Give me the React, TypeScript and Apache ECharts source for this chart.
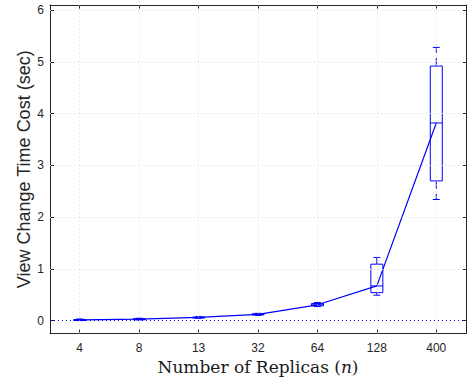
import React, { useEffect, useRef } from "react";
import * as echarts from "echarts";

const categories = ["4", "8", "13", "32", "64", "128", "400"];
const lows = [0.0, 0.015, 0.045, 0.1, 0.27, 0.49, 2.34];
const q1s = [0.005, 0.022, 0.052, 0.11, 0.285, 0.54, 2.7];
const medians = [0.012, 0.028, 0.06, 0.12, 0.305, 0.67, 3.82];
const q3s = [0.02, 0.035, 0.068, 0.13, 0.33, 1.09, 4.92];
const highs = [0.03, 0.045, 0.075, 0.14, 0.35, 1.22, 5.28];
const yTicks = [0, 1, 2, 3, 4, 5, 6];
const yMin = -0.25;
const yMax = 6.1;

const BLUE = "#0000ff";
const AXIS = "#262626";
const GRID = "#d9d9d9";
const SANS = "'Liberation Sans', Arial, Helvetica, sans-serif";
const SERIF = "'DejaVu Serif', 'Liberation Serif', serif";

export default function App() {
  const ref = useRef<HTMLDivElement>(null);
  useEffect(() => {
    if (!ref.current) return;
    const chart = echarts.init(ref.current, undefined, { renderer: "svg" });
    const boxData = categories.map((_, i) => [i, lows[i], q1s[i], medians[i], q3s[i], highs[i]]);
    const gridLines: any[] = [
      ...categories.map((c) => ({ xAxis: c })),
      ...yTicks.filter((v) => v !== 0).map((v) => ({ yAxis: v })),
    ];
    chart.setOption({
      animation: false,
      grid: { left: 50, right: 2, top: 5, bottom: 47.5, containLabel: false },
      xAxis: [
        {
          type: "category",
          data: categories,
          position: "bottom",
          boundaryGap: true,
          axisLine: { show: true, onZero: false, lineStyle: { color: AXIS, width: 1 } },
          axisTick: { show: true, inside: true, alignWithLabel: true, length: 4, lineStyle: { color: AXIS } },
          axisLabel: { color: AXIS, fontSize: 12, fontFamily: SANS, margin: 8 },
          splitLine: { show: false },
          name: "{a|Number of Replicas (}{i|n}{a|)}",
          nameLocation: "middle",
          nameGap: 25,
          nameMoveOverlap: false,
          nameTextStyle: {
            fontFamily: SERIF,
            fontSize: 17,
            color: "#1a1a1a",
            rich: {
              a: { fontFamily: SERIF, fontSize: 17, color: "#1a1a1a" },
              i: { fontFamily: SERIF, fontSize: 17, fontStyle: "italic", color: "#1a1a1a" },
            },
          },
        },
        {
          type: "category",
          data: categories,
          position: "top",
          boundaryGap: true,
          axisLine: { show: true, onZero: false, lineStyle: { color: AXIS, width: 1 } },
          axisTick: { show: true, inside: true, alignWithLabel: true, length: 4, lineStyle: { color: AXIS } },
          axisLabel: { show: false },
          splitLine: { show: false },
        },
      ],
      yAxis: [
        {
          type: "value",
          min: yMin,
          max: yMax,
          position: "left",
          axisLine: { show: true, onZero: false, lineStyle: { color: AXIS, width: 1 } },
          axisTick: { show: true, inside: true, length: 4, customValues: yTicks, lineStyle: { color: AXIS } },
          axisLabel: { color: AXIS, fontSize: 12, fontFamily: SANS, margin: 6, customValues: yTicks },
          splitLine: { show: false },
          name: "View Change Time Cost (sec)",
          nameLocation: "middle",
          nameGap: 17,
          nameMoveOverlap: false,
          nameTextStyle: { fontFamily: SANS, fontSize: 18, fontStyle: "normal", color: AXIS },
        },
        {
          type: "value",
          min: yMin,
          max: yMax,
          position: "right",
          axisLine: { show: true, onZero: false, lineStyle: { color: AXIS, width: 1 } },
          axisTick: { show: true, inside: true, length: 4, customValues: yTicks, lineStyle: { color: AXIS } },
          axisLabel: { show: false, customValues: yTicks },
          splitLine: { show: false },
        },
      ],
      series: [
        {
          type: "line",
          data: [],
          z: 1,
          silent: true,
          markLine: {
            silent: true,
            symbol: ["none", "none"],
            label: { show: false },
            lineStyle: { color: GRID, type: [1, 3], width: 1 },
            data: gridLines,
          },
        },
        {
          type: "custom",
          z: 3,
          xAxisIndex: 0,
          yAxisIndex: 0,
          encode: { x: 0, y: [1, 2, 3, 4, 5] },
          data: boxData,
          renderItem: (_params: any, api: any) => {
            const x = api.value(0);
            const pLow = api.coord([x, api.value(1)]);
            const pQ1 = api.coord([x, api.value(2)]);
            const pMed = api.coord([x, api.value(3)]);
            const pQ3 = api.coord([x, api.value(4)]);
            const pHigh = api.coord([x, api.value(5)]);
            const cx = pLow[0];
            const bw = 12;
            const cw = 7;
            const st = { stroke: BLUE, lineWidth: 1, fill: "none" };
            const dash = { stroke: BLUE, lineWidth: 1, fill: "none", lineDash: [8, 5] };
            return {
              type: "group",
              children: [
                { type: "line", shape: { x1: cx, y1: pQ3[1], x2: cx, y2: pHigh[1] }, style: dash },
                { type: "line", shape: { x1: cx, y1: pQ1[1], x2: cx, y2: pLow[1] }, style: dash },
                { type: "line", shape: { x1: cx - cw / 2, y1: pHigh[1], x2: cx + cw / 2, y2: pHigh[1] }, style: st },
                { type: "line", shape: { x1: cx - cw / 2, y1: pLow[1], x2: cx + cw / 2, y2: pLow[1] }, style: st },
                {
                  type: "rect",
                  shape: { x: cx - bw / 2, y: pQ3[1], width: bw, height: Math.max(pQ1[1] - pQ3[1], 1) },
                  style: st,
                },
                { type: "line", shape: { x1: cx - bw / 2, y1: pMed[1], x2: cx + bw / 2, y2: pMed[1] }, style: st },
              ],
            };
          },
        },
        {
          type: "line",
          data: medians,
          z: 4,
          symbol: "none",
          lineStyle: { color: BLUE, width: 1.2 },
          itemStyle: { color: BLUE },
          markLine: {
            silent: true,
            symbol: ["none", "none"],
            label: { show: false },
            lineStyle: { color: BLUE, type: [1, 3], width: 1 },
            data: [{ yAxis: 0 }],
          },
        },
      ],
    });
    return () => chart.dispose();
  }, []);
  return (
    <div
      ref={ref}
      style={{ position: "absolute", left: 0, top: 0, width: 468, height: 381, background: "#fff" }}
    />
  );
}
